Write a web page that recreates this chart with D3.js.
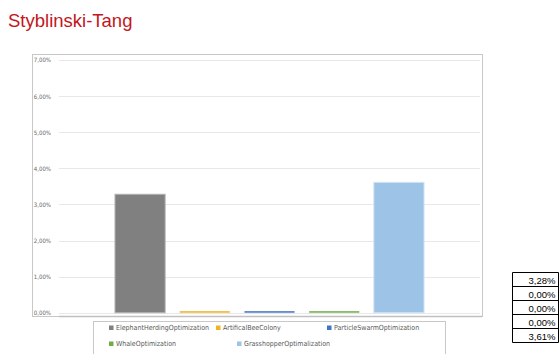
<!DOCTYPE html>
<html><head><meta charset="utf-8">
<script src="https://cdn.jsdelivr.net/npm/d3@7"></script>
<style>
html,body{margin:0;padding:0;background:#fff;}
svg{display:block;font-family:"Liberation Sans Narrow","DejaVu Sans Condensed","Liberation Sans",sans-serif;}
</style></head>
<body><svg id="c" width="560" height="354"></svg>
<script>
const title = "Styblinski-Tang";
const categories = ["Styblinski-Tang"];
const series = ["ElephantHerdingOptimization","ArtificalBeeColony","ParticleSwarmOptimization","WhaleOptimization","GrasshopperOptimalization"];
const values = [0.0328, 0.0000, 0.0000, 0.0000, 0.0361];
const colors = ["#808080","#f0b323","#4472c4","#70ad47","#9dc3e6"];
const strokes = ["#b0b0b0","#f0b323","#4472c4","#70ad47","#cfe2f3"];
const yTicks = [0,0.01,0.02,0.03,0.04,0.05,0.06,0.07];

const loc = d3.formatLocale({decimal:",",thousands:".",grouping:[3],currency:["","€"]});
const pct = loc.format(".2%");

const svg = d3.select("#c");

// title
svg.append("text").attr("x",8).attr("y",27).attr("fill","#c4161c")
  .style("font-family","'Liberation Sans',Arial,sans-serif").style("font-size","18.5px")
  .text(title);

// chart frame
svg.append("rect").attr("x",32.5).attr("y",54.5).attr("width",450).attr("height",262)
  .attr("fill","#fff").attr("stroke","#c8c8c8").attr("stroke-width",1);

const plot = {l:59, r:480, t:60, b:312.7};
const y = d3.scaleLinear().domain([0,0.07]).range([plot.b, plot.t]);
const x0 = d3.scaleBand().domain(categories).range([plot.l, plot.r]).paddingInner(0).paddingOuter(0.179);
const x1 = d3.scaleBand().domain(series).range([0, x0.bandwidth()]).paddingInner(0.21).paddingOuter(0);

// gridlines
svg.append("g").selectAll("line").data(yTicks).join("line")
  .attr("x1",plot.l).attr("x2",plot.r)
  .attr("y1",d=>Math.round(y(d))+0.5).attr("y2",d=>Math.round(y(d))+0.5)
  .attr("stroke","#e8e8e8").attr("stroke-width",1);

// y axis labels
const yAxis = d3.axisLeft(y).tickValues(yTicks).tickFormat(pct).tickSize(0).tickPadding(0);
const ga = svg.append("g").attr("transform",`translate(51,0)`).call(yAxis);
ga.select(".domain").remove();
ga.selectAll("text").attr("fill","#666").style("font-size","6px")
  .style("font-family","'Liberation Sans Narrow','DejaVu Sans Condensed',sans-serif");

// bars
const g = svg.append("g");
categories.forEach(cat=>{
  g.selectAll("rect.b").data(series).join("rect").attr("class","b")
    .attr("x",s=>x0(cat)+x1(s)+0.5)
    .attr("width",x1.bandwidth()-1)
    .attr("y",(s,i)=>Math.min(y(values[i]), plot.b-1.5))
    .attr("height",(s,i)=>Math.max(plot.b-y(values[i]),1.5))
    .attr("fill",(s,i)=>colors[i])
    .attr("stroke",(s,i)=>values[i]>0?strokes[i]:"none").attr("stroke-width",1);
});

// bottom axis line (frame bottom area)
svg.append("line").attr("x1",plot.l).attr("x2",plot.r+2).attr("y1",316.5).attr("y2",316.5)
  .attr("stroke","#c0c0c0").attr("stroke-width",1.5);

// legend box
svg.append("rect").attr("x",93.5).attr("y",321.5).attr("width",352).attr("height",40)
  .attr("fill","#fff").attr("stroke","#c8c8c8").attr("stroke-width",1);

const legendPos = [[109,330],[216,330],[327,330],[109,346],[237,346]];
const lg = svg.append("g").selectAll("g").data(series).join("g")
  .attr("transform",(s,i)=>`translate(${legendPos[i][0]},${legendPos[i][1]})`);
lg.append("rect").attr("x",0).attr("y",-4.5).attr("width",4.5).attr("height",4.5).attr("fill",(s,i)=>colors[i]);
lg.append("text").attr("x",7).attr("y",0).attr("fill","#595959").style("font-size","7px").text(s=>s);

// data table on the right
const tbl = svg.append("g");
const rowH = 14, tTop = 272.5, tL = 512.5, tR = 558.5;
tbl.selectAll("line.h").data(d3.range(values.length+1)).join("line").attr("class","h")
  .attr("x1",tL).attr("x2",tR).attr("y1",i=>tTop+i*rowH).attr("y2",i=>tTop+i*rowH)
  .attr("stroke","#000").attr("stroke-width",1);
tbl.append("line").attr("x1",tL).attr("x2",tL).attr("y1",tTop).attr("y2",tTop+rowH*values.length).attr("stroke","#000");
tbl.append("line").attr("x1",tR).attr("x2",tR).attr("y1",tTop).attr("y2",tTop+rowH*values.length).attr("stroke","#000");
tbl.selectAll("text").data(values).join("text")
  .attr("x",tR-3).attr("y",(v,i)=>tTop+i*rowH+11.5).attr("text-anchor","end")
  .attr("fill","#000").style("font-size","9.5px")
  .style("font-family","'Liberation Sans',Arial,sans-serif")
  .text(v=>pct(v));
</script></body></html>
